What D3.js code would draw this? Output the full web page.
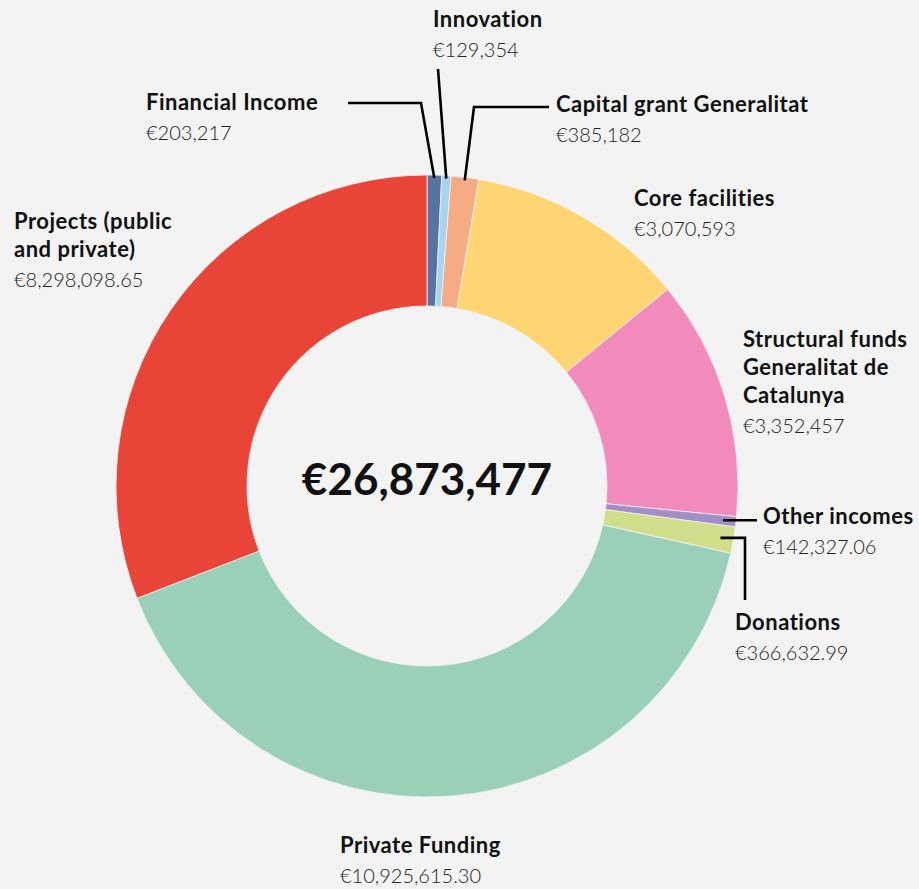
<!DOCTYPE html>
<html>
<head>
<meta charset="utf-8">
<script src="https://cdn.jsdelivr.net/npm/d3@7"></script>
<style>
html,body{margin:0;padding:0;background:#f2f3f2;}
svg{display:block;}
.lbl{font-family:Lato,"Open Sans",sans-serif;font-weight:700;fill:#111;}
.val{font-family:Lato,"Open Sans",sans-serif;font-weight:300;fill:#222;}
</style>
</head>
<body>
<svg id="chart" width="919" height="889"></svg>
<script>
// ---- data ----
const categories = ["Financial Income","Innovation","Capital grant Generalitat","Core facilities","Structural funds Generalitat de Catalunya","Other incomes","Donations","Private Funding","Projects (public and private)"];
const values = [203217, 129354, 385182, 3070593, 3352457, 142327.06, 366632.99, 10925615.30, 8298098.65];
const valueLabels = ["€203,217","€129,354","€385,182","€3,070,593","€3,352,457","€142,327.06","€366,632.99","€10,925,615.30","€8,298,098.65"];
const labelLines = [["Financial Income"],["Innovation"],["Capital grant Generalitat"],["Core facilities"],["Structural funds","Generalitat de","Catalunya"],["Other incomes"],["Donations"],["Private Funding"],["Projects (public","and private)"]];
const colors = ["#5673a1","#a5d5f1","#f5ab84","#fed572","#f28abb","#a48fc5","#d0dd8a","#9bd0b8","#e84438"];
const totalLabel = "€26,873,477";

// ---- layout ----
const W = 919, H = 889;
const cx = 427, cy = 486, rOut = 311, rIn = 180;
const fsL = 22, fsV = 20, lh = 28;
// label anchor (x, baseline of first line) per category
const labelPos = [[146,110],[433,27],[556,112],[634,206],[743,347],[763,524],[735,630],[340,853],[14,229]];
// leader lines: radius of start point, then extra points (null = keep previous coordinate)
const leaders = [
  {i:0, r:308, pts:[[421,103],[348,103]]},
  {i:1, r:308, pts:[[438,69]]},
  {i:2, r:308, pts:[[474,107],[549,107]]},
  {i:5, r:298, pts:[[757,null]]},
  {i:6, r:298, pts:[[745,null],[745,600]]}
];

const svg = d3.select("#chart");
svg.append("rect").attr("width",W).attr("height",H).attr("fill","#f2f3f2");
const g = svg.append("g").attr("transform",`translate(${cx},${cy})`);

const pie = d3.pie().sort(null).value(d=>d)(values);
const arc = d3.arc().innerRadius(rIn).outerRadius(rOut);
g.selectAll("path.slice").data(pie).join("path")
  .attr("class","slice")
  .attr("d",arc)
  .attr("fill",(d,i)=>colors[i])
  .attr("stroke","#f2f3f2").attr("stroke-width",0.8);

// leaders
leaders.forEach(L=>{
  const p = pie[L.i];
  const a = (p.startAngle+p.endAngle)/2;
  const pts = [[cx+L.r*Math.sin(a), cy-L.r*Math.cos(a)]];
  L.pts.forEach(q=>{
    const prev = pts[pts.length-1];
    pts.push([q[0]==null?prev[0]:q[0], q[1]==null?prev[1]:q[1]]);
  });
  svg.append("path").attr("d",d3.line()(pts))
    .attr("fill","none").attr("stroke","#000").attr("stroke-width",2.6);
});

// labels
categories.forEach((c,i)=>{
  const [x,y] = labelPos[i];
  const t = svg.append("g");
  labelLines[i].forEach((ln,k)=>{
    t.append("text").attr("class","lbl").attr("x",x).attr("y",y+k*lh)
      .attr("font-size",fsL).attr("letter-spacing",0.5).text(ln);
  });
  t.append("text").attr("class","val").attr("x",x).attr("y",y+labelLines[i].length*lh+2)
    .attr("font-size",fsV).text(valueLabels[i]);
});

// total
svg.append("text").attr("class","lbl").attr("x",cx).attr("y",cy+9)
  .attr("text-anchor","middle").attr("font-size",44).text(totalLabel);
</script>
</body>
</html>
